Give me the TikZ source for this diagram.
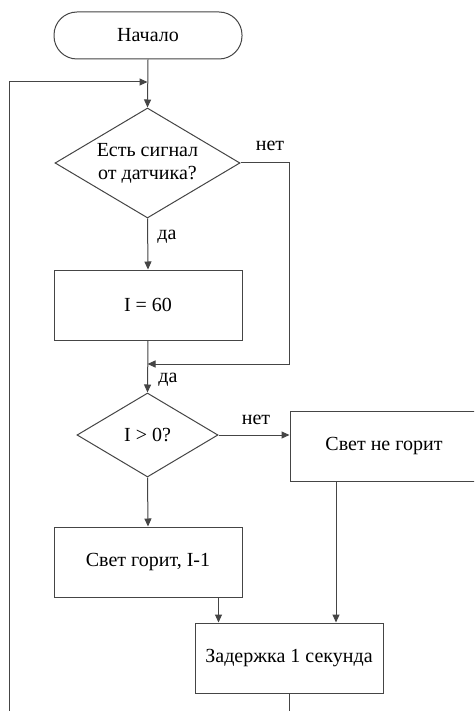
\documentclass[tikz,border=0pt]{standalone}
\usepackage{fontspec}
\setmainfont{Liberation Serif}
\newfontfamily\tnr{Liberation Serif}
\usetikzlibrary{shapes.geometric,arrows.meta}
\definecolor{lc}{HTML}{454545}
\begin{document}
\begin{tikzpicture}[x=1pt,y=-1pt,
  base/.style={draw=lc, line width=1pt, font=\tnr\fontsize{20pt}{23pt}\selectfont, text=black, align=center, inner sep=0pt},
  term/.style={base, rounded corners=23pt, minimum width=188pt, minimum height=47pt},
  proc/.style={base, rectangle, minimum width=188pt, minimum height=70pt},
  dec/.style={base, diamond, aspect=1.68},
  lbl/.style={font=\tnr\fontsize{20pt}{23pt}\selectfont, inner sep=0pt, text=black},
  line/.style={draw=lc, line width=1pt},
  arr/.style={line, -{Triangle[length=8pt,width=7pt]}}]
\useasboundingbox (0,0) rectangle (474,711);
\clip (0,0) rectangle (474,711);
\fill[white] (0,0) rectangle (474,711);

\node[term] (start) at (148,35.5) {Начало};
\node[dec, minimum width=185pt, minimum height=110pt] (d1) at (147.5,163) {Есть сигнал\\от датчика?};
\node[proc] (r1) at (148,305) {I = 60};
\node[dec, minimum width=141pt, minimum height=84pt] (d2) at (147.5,435) {I > 0?};
\node[proc] (r2) at (384,446.5) {Свет не горит};
\node[proc] (r3) at (148,562) {Свет горит, I-1};
\node[proc] (r4) at (289,658) {Задержка 1 секунда};

\coordinate (loopin) at (147.5,82);
\coordinate (loopbr) at (289,720);
\coordinate (loopbl) at (9,720);
\coordinate (looptl) at (9,82);
\coordinate (nr) at (289,163);
\coordinate (nb) at (289,364);
\coordinate (merge) at (147.5,364);

\draw[arr] (start.south) -- (d1.north);
\draw[arr] (r4.south) -- (loopbr) -- (loopbl) -- (looptl) -- (loopin);
\draw[arr] (d1.east) -- (nr) -- (nb) -- (merge);
\draw[arr] (d1.south) -- (r1.north);
\draw[arr] (r1.south) -- (d2.north);
\draw[arr] (d2.east) -- (d2.east -| r2.west);
\draw[arr] (d2.south) -- (r3.north);
\draw[arr] ([xshift=-24pt]r3.south east) -- ([xshift=-24pt]r3.south east |- r4.north);
\draw[arr] ([xshift=-48pt]r2.south) -- ([xshift=-48pt]r2.south |- r4.north);

\node[lbl] (l1) at (270,146) {нет};
\node[lbl] (l2) at (167,237) {да};
\node[lbl] (l3) at (168,380) {да};
\node[lbl] (l4) at (256,420) {нет};
\end{tikzpicture}
\end{document}
